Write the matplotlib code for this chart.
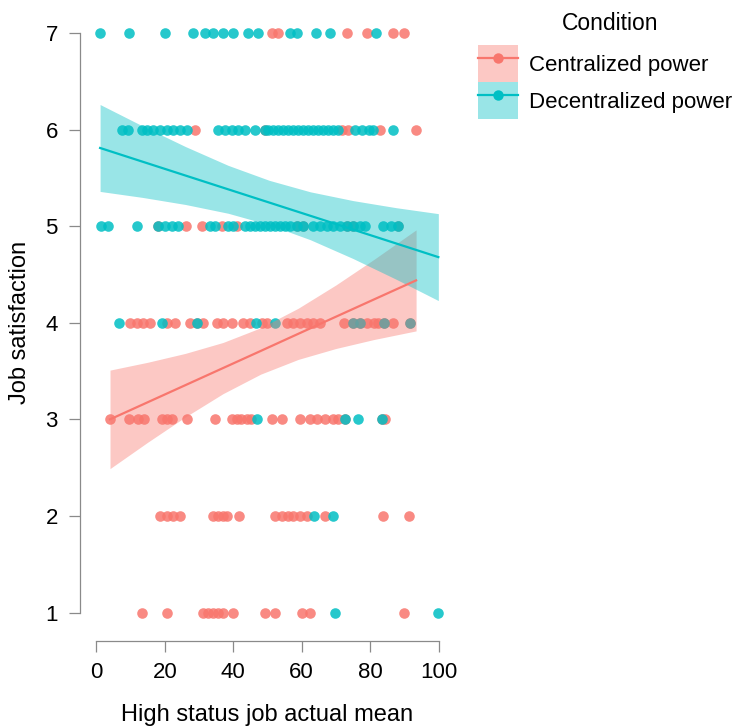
import numpy as np
import matplotlib
matplotlib.use("Agg")
import matplotlib.pyplot as plt
from matplotlib.patches import Patch
from matplotlib.lines import Line2D

plt.rcParams['font.family'] = ['Liberation Sans', 'DejaVu Sans']

# job satisfaction (1-7) vs. high status job actual mean, by condition
cent_x = [51.2, 53.2, 73.3, 79.1, 86.7, 89.9,
          28.8, 49.3, 71.7, 73.6, 82.9, 93.4,
          18.1, 26.2, 30.8, 36.6, 41.0, 58.5, 60.5, 73.1, 75.1, 88.2,
          9.8, 11.8, 13.7, 15.7, 20.6, 23.0, 27.4, 29.3, 31.3, 35.2, 37.1, 39.5,
          42.9, 44.9, 48.3, 49.8, 55.6, 57.5, 59.5, 61.4, 63.4, 65.3, 72.2, 75.1,
          77.0, 79.0, 81.0, 82.4, 83.9, 86.8, 91.6,
          4.0, 9.6, 12.2, 14.0, 19.1, 20.6, 22.0, 26.4, 34.7, 39.5, 41.0, 42.4,
          43.9, 45.3, 51.2, 54.1, 59.5, 62.4, 64.4, 66.8, 69.2, 70.7, 72.6, 83.3, 84.3,
          18.6, 20.6, 22.5, 24.4, 34.2, 35.6, 37.1, 38.1, 41.8, 52.2, 54.1, 56.0,
          57.5, 59.5, 61.4, 66.8, 83.8, 91.3,
          13.3, 20.7, 31.3, 32.7, 34.2, 35.6, 37.1, 40.0, 49.3, 52.2, 60.0, 62.4, 89.9]
cent_y = ([7] * 6 + [6] * 6 + [5] * 10 + [4] * 31 + [3] * 25 + [2] * 18 + [1] * 13)

dec_x = [1.1, 9.6, 20.1, 28.3, 31.7, 34.1, 37.1, 39.8, 44.4, 47.1, 56.6, 58.5, 64.2, 68.3, 81.7,
         7.4, 9.3, 13.3, 14.7, 16.7, 18.6, 20.6, 22.5, 24.4, 26.4, 35.6, 37.6, 39.5, 41.5,
         43.4, 46.3, 49.3, 50.2, 51.6, 53.1, 54.5, 56.0, 57.5, 58.9, 60.4, 61.8, 63.3,
         64.7, 66.2, 67.7, 69.1, 70.6, 75.6, 77.5, 79.5, 80.9, 86.7,
         1.5, 3.5, 11.8, 18.1, 20.1, 22.0, 24.0, 33.2, 34.7, 38.6, 40.0, 43.4, 44.9,
         46.3, 47.8, 49.3, 50.7, 52.2, 53.7, 55.1, 56.6, 58.5, 60.5, 63.4, 65.3, 67.3,
         69.2, 71.2, 73.1, 75.1, 77.0, 78.5, 83.8, 86.0, 88.2,
         6.5, 19.1, 29.3, 46.6, 52.2, 75.1, 77.0, 83.9, 91.6,
         47.0, 72.6, 76.5, 83.3,
         63.7, 69.0,
         69.7, 99.9]
dec_y = ([7] * 15 + [6] * 37 + [5] * 35 + [4] * 9 + [3] * 4 + [2] * 2 + [1] * 2)

# linear fits with 95% confidence band (estimated values)
cent_sx = [4.0, 15.0, 26.0, 37.0, 48.0, 59.0, 70.0, 81.0, 93.4]
cent_fit = [3.000, 3.177, 3.354, 3.531, 3.708, 3.886, 4.063, 4.240, 4.439]
cent_lo = [2.490, 2.763, 3.025, 3.266, 3.468, 3.621, 3.734, 3.826, 3.916]
cent_hi = [3.510, 3.591, 3.683, 3.796, 3.948, 4.151, 4.392, 4.654, 4.962]

dec_sx = [1.1, 13.5, 26.0, 38.5, 50.5, 62.5, 75.0, 87.5, 99.9]
dec_fit = [5.810, 5.668, 5.525, 5.382, 5.245, 5.108, 4.965, 4.822, 4.680]
dec_lo = [5.360, 5.298, 5.225, 5.134, 5.015, 4.860, 4.665, 4.452, 4.230]
dec_hi = [6.260, 6.038, 5.825, 5.630, 5.475, 5.356, 5.265, 5.192, 5.130]

groups = ["Centralized power", "Decentralized power"]
colors = ["#F8766D", "#00BFC4"]

fig = plt.figure(figsize=(7.44, 7.26), dpi=100)
ax = fig.add_axes([0.1118, 0.1164, 0.5001, 0.878])

points = [(cent_x, cent_y), (dec_x, dec_y)]
for (x, y), col in zip(points, colors):
    ax.scatter(x, y, s=58, color=col, alpha=0.85, linewidths=0, zorder=2)

smooths = [(cent_sx, cent_fit, cent_lo, cent_hi), (dec_sx, dec_fit, dec_lo, dec_hi)]
for (sx, fit, lo, hi), col in zip(smooths, colors):
    ax.fill_between(sx, lo, hi, color=col, alpha=0.4, linewidth=0, zorder=3)
    ax.plot(sx, fit, color=col, lw=1.6, zorder=4)

ax.set_xlim(-3.84, 104.84)
ax.set_ylim(0.7, 7.3)
ax.set_xticks([0, 20, 40, 60, 80, 100])
ax.set_yticks([1, 2, 3, 4, 5, 6, 7])

for side in ["top", "right"]:
    ax.spines[side].set_visible(False)
ax.spines["left"].set_position(("outward", 2.2))
ax.spines["left"].set_bounds(1, 7)
ax.spines["bottom"].set_bounds(0, 100)
for side in ["left", "bottom"]:
    ax.spines[side].set_color("#8a8a8a")
    ax.spines[side].set_linewidth(0.9)
ax.tick_params(axis="both", direction="out", length=8, width=0.9,
               color="#8a8a8a", labelsize=16, labelcolor="black")
ax.tick_params(axis="x", pad=7)
ax.tick_params(axis="y", pad=8)

ax.set_xlabel("High status job actual mean", fontsize=17)
ax.xaxis.set_label_coords(0.495, -0.098)
ax.set_ylabel("Job satisfaction", fontsize=17)
ax.yaxis.set_label_coords(-0.14, 0.5)

# legend: title placed separately so it sits a bit above the keys
fig.text(0.82, 1 - 24 / 726, "Condition", fontsize=16.5, ha="center", va="center")
handles = []
for col in colors:
    handles.append((Patch(facecolor=col, alpha=0.4, edgecolor="none"),
                    Line2D([], [], color=col, lw=1.6, marker="o", markersize=7.5,
                           markeredgewidth=0)))
leg = fig.legend(handles, groups, loc="upper left",
                 bbox_to_anchor=(0.6425, 1 - 45 / 726), frameon=False, fontsize=16,
                 handlelength=1.8, handleheight=2.2,
                 labelspacing=0.0, handletextpad=0.5, borderaxespad=0,
                 borderpad=0)

fig.savefig("out.png", dpi=100)
